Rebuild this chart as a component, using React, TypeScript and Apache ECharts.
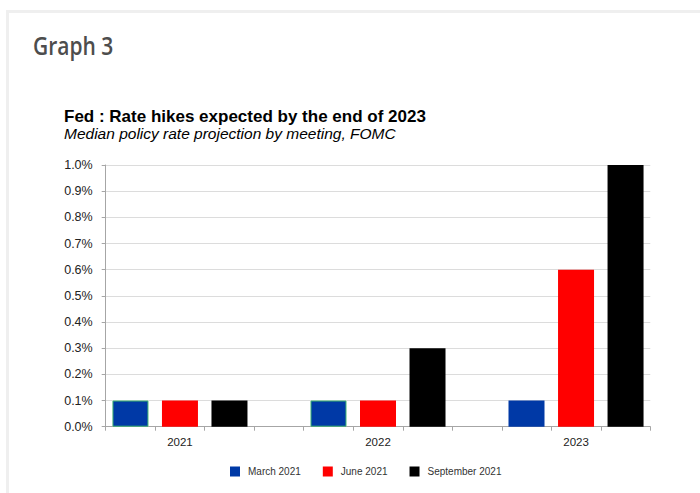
import React, { useEffect, useRef } from "react";
import * as echarts from "echarts";

const years = ["2021", "2022", "2023"];
const seriesNames = ["March 2021", "June 2021", "September 2021"];
const march2021 = [0.1, 0.1, 0.1];
const june2021 = [0.1, 0.1, 0.6];
const september2021 = [0.1, 0.3, 1.0];
const yTicks = [0, 0.1, 0.2, 0.3, 0.4, 0.5, 0.6, 0.7, 0.8, 0.9, 1.0];

const colors = ["#0039A6", "#FF0000", "#000000"];

// 11 slots: [March, June, Sep, gap] x 3 years (last gap omitted)
const slotCount = 11;
const categories: string[] = Array.from({ length: slotCount }, (_, i) =>
  i % 4 === 1 ? years[Math.floor(i / 4)] : ""
);

function buildSeriesData(values: number[], offset: number, withBorder: boolean[]) {
  const out: any[] = Array.from({ length: slotCount }, () => "-");
  values.forEach((v, yi) => {
    const idx = yi * 4 + offset;
    out[idx] = withBorder[yi]
      ? { value: v, itemStyle: { borderColor: "#3CB371", borderWidth: 1 } }
      : v;
  });
  return out;
}

export default function App() {
  const ref = useRef<HTMLDivElement>(null);
  useEffect(() => {
    if (!ref.current) return;
    const chart = echarts.init(ref.current, undefined, { renderer: "svg" });
    const all = [march2021, june2021, september2021];
    const borders = [
      [true, true, false],
      [false, false, false],
      [false, false, false],
    ];
    chart.setOption({
      animation: false,
      backgroundColor: "#ffffff",
      graphic: [
        { type: "rect", shape: { x: 6, y: 10, width: 694, height: 3 }, style: { fill: "#efefef" } },
        { type: "rect", shape: { x: 6, y: 10, width: 3, height: 483 }, style: { fill: "#efefef" } },
        {
          type: "text",
          x: 33,
          y: 33,
          scaleX: 0.84,
          style: {
            text: "Graph 3",
            fontFamily: "Open Sans",
            fontWeight: 600,
            fontSize: 25,
            fill: "#4d4d4d",
          },
        },
        {
          type: "text",
          x: 64,
          y: 107.5,
          style: {
            text: "Fed : Rate hikes expected by the end of 2023",
            fontFamily: "Liberation Sans, Arial",
            fontWeight: "bold",
            fontSize: 17,
            fill: "#000000",
          },
        },
        {
          type: "text",
          x: 64,
          y: 125.5,
          style: {
            text: "Median policy rate projection by meeting, FOMC",
            fontFamily: "Liberation Sans, Arial",
            fontStyle: "italic",
            fontSize: 15.5,
            fill: "#000000",
          },
        },
      ],
      legend: {
        left: 230,
        top: 466.5,
        padding: 0,
        itemWidth: 10,
        itemHeight: 10,
        itemGap: 22,
        icon: "rect",
        data: seriesNames,
        textStyle: {
          fontFamily: "Liberation Sans, Arial",
          fontSize: 10,
          color: "#333333",
          padding: [0, 0, 0, 3],
        },
      },
      grid: { left: 105.7, right: 49.7, top: 165, bottom: 66.3 },
      xAxis: {
        type: "category",
        data: categories,
        axisLine: { lineStyle: { color: "#a6a6a6", width: 1 } },
        axisTick: { show: true, interval: 0, length: 4, lineStyle: { color: "#a6a6a6" } },
        axisLabel: {
          interval: 0,
          margin: 9,
          fontFamily: "Liberation Sans, Arial",
          fontSize: 11.5,
          color: "#222222",
        },
        splitLine: { show: false },
      },
      yAxis: {
        type: "value",
        min: yTicks[0],
        max: yTicks[yTicks.length - 1],
        interval: 0.1,
        axisLine: { show: true, lineStyle: { color: "#a6a6a6", width: 1 } },
        axisTick: { show: true, length: 4, lineStyle: { color: "#a6a6a6" } },
        axisLabel: {
          margin: 13,
          fontFamily: "Liberation Sans, Arial",
          fontSize: 12.5,
          color: "#222222",
          formatter: (v: number) => v.toFixed(1) + "%",
        },
        splitLine: { lineStyle: { color: "#dcdcdc", width: 1 } },
      },
      series: all.map((vals, si) => ({
        name: seriesNames[si],
        type: "bar",
        stack: "s",
        barWidth: 36,
        itemStyle: { color: colors[si] },
        data: buildSeriesData(vals, si, borders[si]),
      })),
    });
    return () => chart.dispose();
  }, []);
  return (
    <div
      ref={ref}
      style={{ position: "fixed", left: 0, top: 0, width: 700, height: 493 }}
    />
  );
}
